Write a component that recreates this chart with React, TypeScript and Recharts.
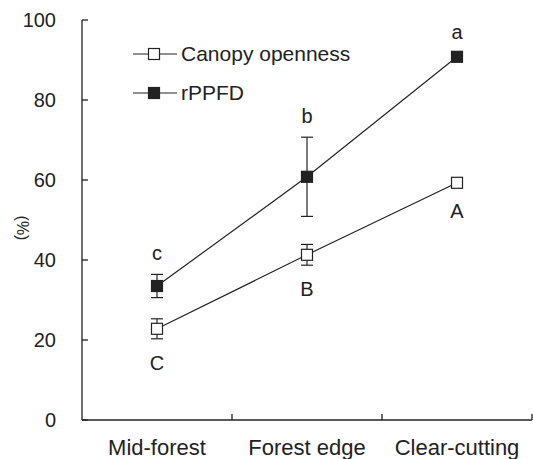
import React from 'react';
import { LineChart, Line, XAxis, YAxis, ErrorBar, LabelList, Legend } from 'recharts';

const categories = ['Mid-forest', 'Forest edge', 'Clear-cutting'];
const canopyOpenness = [22.8, 41.3, 59.3];
const canopyErr = [2.5, 2.6, 1.0];
const rppfd = [33.5, 60.8, 90.8];
const rppfdErr = [2.9, 9.9, 1.0];
const canopyLetters = ['C', 'B', 'A'];
const rppfdLetters = ['c', 'b', 'a'];
const yTicks = [0, 20, 40, 60, 80, 100];
const xTicks = [0.5, 1, 1.5, 2, 2.5, 3];

const data = categories.map((name, i) => ({
  pos: i + 0.5,
  name,
  co: canopyOpenness[i],
  coErr: canopyErr[i],
  coL: canopyLetters[i],
  rp: rppfd[i],
  rpErr: rppfdErr[i],
  rpL: rppfdLetters[i],
}));

const INK = '#222';
const FONT = '"Liberation Sans", Arial, sans-serif';

const squareDot = (fill: string) => (props: any) => {
  const { cx, cy, index } = props;
  return (
    <rect key={index} x={cx - 5.5} y={cy - 5.5} width={11} height={11} fill={fill} stroke={INK} strokeWidth={1.2} />
  );
};

const YTick = ({ x, y, payload }: any) => (
  <g>
    <line x1={x} x2={x + 6} y1={y} y2={y} stroke={INK} strokeWidth={1.3} />
    <text x={x - 26} y={y} dy="0.36em" textAnchor="end" fontSize={20} fill={INK}>
      {payload.value}
    </text>
  </g>
);

const XTick = ({ x, y, payload }: any) => {
  if (payload.value % 1 === 0) {
    return <line x1={x} x2={x} y1={y} y2={y - 6} stroke={INK} strokeWidth={1.3} />;
  }
  return (
    <text x={x} y={y + 35} textAnchor="middle" fontSize={22} fill={INK}>
      {categories[Math.floor(payload.value)]}
    </text>
  );
};

const legendFill: Record<string, string> = { co: '#fff', rp: INK };

const LegendContent = ({ payload }: any) => (
  <div>
    {(payload || [])
      .filter((p: any) => p.type !== 'none' && legendFill[p.dataKey])
      .map((p: any) => (
        <div key={p.value} style={{ display: 'flex', alignItems: 'center', height: 39 }}>
          <svg width={44} height={14}>
            <line x1={0} x2={44} y1={7} y2={7} stroke={INK} strokeWidth={1.2} />
            <rect x={15.5} y={1.5} width={11} height={11} fill={legendFill[p.dataKey]} stroke={INK} strokeWidth={1.2} />
          </svg>
          <span style={{ marginLeft: 4, fontSize: 21, color: INK }}>{p.value}</span>
        </div>
      ))}
  </div>
);

export default function App() {
  return (
    <div style={{ position: 'absolute', left: 0, top: 0, background: '#fff', fontFamily: FONT }}>
      <LineChart width={533} height={459} data={data} margin={{ top: 20, right: 1, left: 0, bottom: 0 }}>
        <XAxis
          type="number"
          dataKey="pos"
          domain={[0, 3]}
          ticks={xTicks}
          interval={0}
          height={39}
          tickSize={0}
          tickMargin={0}
          tickLine={false}
          tick={<XTick />}
          axisLine={{ stroke: INK, strokeWidth: 1.3 }}
        />
        <YAxis
          type="number"
          domain={[0, 100]}
          ticks={yTicks}
          interval={0}
          width={82}
          tickSize={0}
          tickMargin={0}
          tickLine={false}
          tick={<YTick />}
          axisLine={{ stroke: INK, strokeWidth: 1.3 }}
        />
        <Legend
          layout="vertical"
          verticalAlign="middle"
          align="center"
          content={<LegendContent />}
          wrapperStyle={{ position: 'absolute', left: 133, top: 34, width: 300, height: 78 }}
        />
        <Line
          dataKey="co"
          name="Canopy openness"
          type="linear"
          stroke={INK}
          strokeWidth={1.2}
          dot={squareDot('#fff')}
          isAnimationActive={false}
        >
          <ErrorBar dataKey="coErr" width={6} stroke={INK} strokeWidth={1.2} />
        </Line>
        <Line
          dataKey="rp"
          name="rPPFD"
          type="linear"
          stroke={INK}
          strokeWidth={1.2}
          dot={squareDot(INK)}
          isAnimationActive={false}
        >
          <ErrorBar dataKey="rpErr" width={6} stroke={INK} strokeWidth={1.2} />
        </Line>
        <Line
          dataKey={(d: any) => d.rp + d.rpErr}
          stroke="none"
          dot={false}
          legendType="none"
          isAnimationActive={false}
        >
          <LabelList dataKey="rpL" position="top" offset={14} fontSize={20} fill={INK} />
        </Line>
        <Line
          dataKey={(d: any) => d.co - d.coErr}
          stroke="none"
          dot={false}
          legendType="none"
          isAnimationActive={false}
        >
          <LabelList dataKey="coL" position="bottom" offset={17} fontSize={20} fill={INK} />
        </Line>
        <text x={22} y={228} transform="rotate(90 22 228)" textAnchor="middle" dominantBaseline="central" fontSize={16} fill={INK}>
          (%)
        </text>
      </LineChart>
    </div>
  );
}
